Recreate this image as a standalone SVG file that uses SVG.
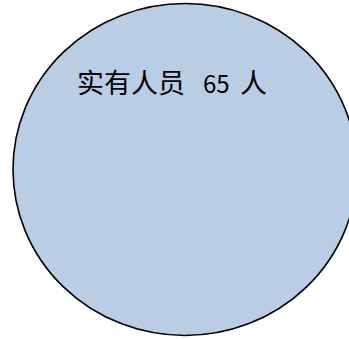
<svg xmlns="http://www.w3.org/2000/svg" width="349" height="339" viewBox="0 0 349 339">
<style>
.shape{fill:#B9CDE5;stroke:#000;stroke-width:1.6}
.label{font-family:"Noto Sans CJK SC","Noto Sans",sans-serif;font-size:27px;fill:#000}
</style>
<rect width="349" height="339" fill="#fff"/>
<g id="node-staff">
<ellipse class="shape" cx="185" cy="169.5" rx="172" ry="166"/>
<text class="label" y="93"><tspan x="77">实有人员</tspan><tspan x="203" font-size="24">65</tspan><tspan x="240">人</tspan></text>
</g>
<g id="connectors"/>
</svg>
